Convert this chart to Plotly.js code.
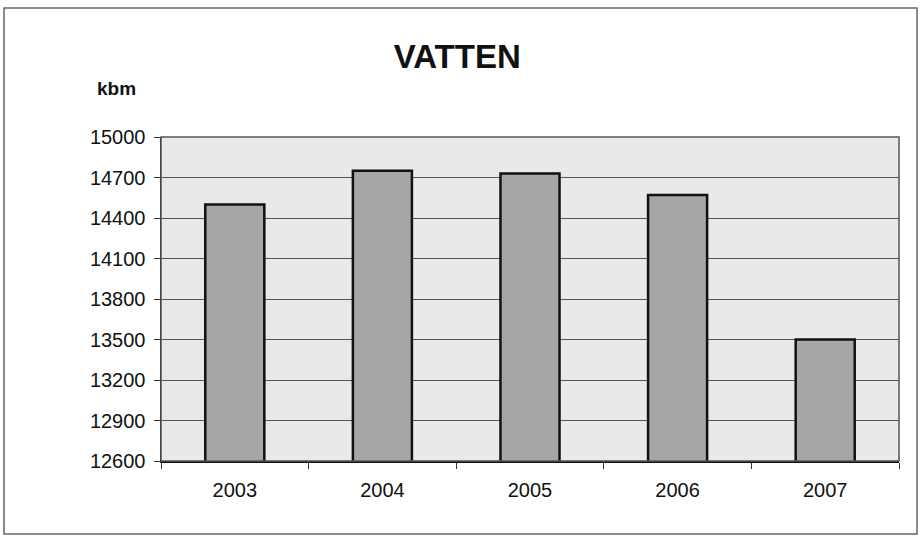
<!DOCTYPE html>
<html>
<head>
<meta charset="utf-8">
<script src="https://cdn.plot.ly/plotly-3.0.1.min.js"></script>
<style>
html,body{margin:0;padding:0;background:#fff;}
#chart{width:920px;height:536px;}
</style>
</head>
<body>
<div id="chart"></div>
<script>
var years = ["2003", "2004", "2005", "2006", "2007"];
var values = [14500, 14750, 14730, 14570, 13500];
var yTicks = [12600, 12900, 13200, 13500, 13800, 14100, 14400, 14700, 15000];

var L = 161, R = 899, T = 137, B = 461, W = 920, H = 536;
function px(x){ return (x - L) / (R - L); }
function py(y){ return (B - y) / (B - T); }

var trace = {
  type: "bar",
  x: years,
  y: values,
  marker: {color: "#a6a6a6", line: {color: "#111", width: 2.5}},
  hoverinfo: "x+y"
};

var layout = {
  width: W, height: H,
  margin: {l: L, r: W - R, t: T, b: H - B},
  paper_bgcolor: "#ffffff",
  plot_bgcolor: "#e9e9e9",
  bargap: 0.6,
  showlegend: false,
  font: {family: "Liberation Sans, Arial, sans-serif", color: "#111"},
  title: {text: "<b>VATTEN</b>", font: {size: 33, color: "#111"}, x: 0.497, xanchor: "center", y: 0.895, yanchor: "middle"},
  xaxis: {
    type: "category",
    showgrid: false,
    showline: true, linecolor: "#111", linewidth: 1.5,
    ticks: "outside", tickson: "boundaries", ticklen: 6, tickcolor: "#333",
    tickfont: {size: 20, color: "#111"},
    ticklabelstandoff: 10
  },
  yaxis: {
    range: [12600, 15000],
    tickvals: yTicks,
    ticktext: yTicks.map(String),
    showgrid: true, gridcolor: "#555", gridwidth: 1,
    showline: true, linecolor: "#111", linewidth: 1.5,
    ticks: "outside", ticklen: 6, tickcolor: "#333",
    tickfont: {size: 20, color: "#111"},
    ticklabelstandoff: 4,
    zeroline: false
  },
  annotations: [
    {text: "<b>kbm</b>", xref: "paper", yref: "paper", x: px(95), y: py(88), xanchor: "left", yanchor: "middle", showarrow: false, font: {size: 19, color: "#111"}}
  ],
  shapes: [
    {type: "rect", xref: "paper", yref: "paper", x0: px(4), x1: px(917), y0: py(534), y1: py(8), line: {color: "#666", width: 1.5}, layer: "below"},
    {type: "rect", xref: "paper", yref: "paper", x0: 0, x1: 1, y0: 0, y1: 1, line: {color: "#555", width: 1.5}, fillcolor: "rgba(0,0,0,0)", layer: "above"}
  ]
};

Plotly.newPlot("chart", [trace], layout, {displayModeBar: false, staticPlot: true});
</script>
</body>
</html>
